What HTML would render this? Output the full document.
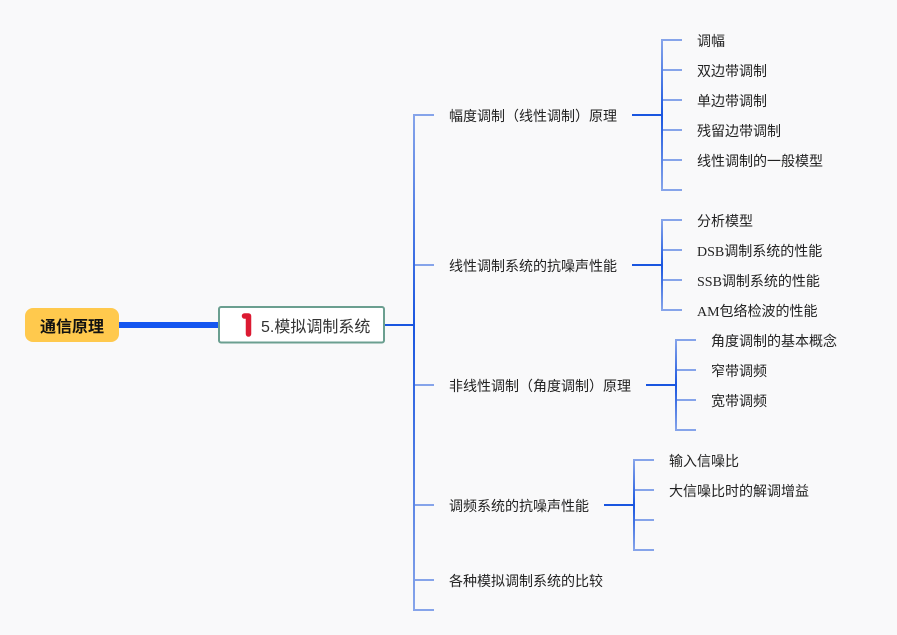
<!DOCTYPE html>
<html><head><meta charset="utf-8"><style>
html,body{margin:0;padding:0;background:#f9f9fa;width:897px;height:635px;overflow:hidden}
svg{display:block}
text{font-family:"Liberation Serif","Noto Sans CJK SC",sans-serif;font-size:14px;fill:#222}
.s{font-family:"Liberation Sans","Noto Sans CJK SC",sans-serif}
</style></head><body>
<svg width="897" height="635" viewBox="0 0 897 635" xmlns="http://www.w3.org/2000/svg">
<defs>
<linearGradient id="g0" gradientUnits="userSpaceOnUse" x1="0" y1="115" x2="0" y2="610"><stop offset="0" stop-color="#86a4ea"/><stop offset=".424" stop-color="#1a56e0"/><stop offset="1" stop-color="#86a4ea"/></linearGradient>
<linearGradient id="g1" gradientUnits="userSpaceOnUse" x1="0" y1="40" x2="0" y2="190"><stop offset="0" stop-color="#86a4ea"/><stop offset=".5" stop-color="#1a56e0"/><stop offset="1" stop-color="#86a4ea"/></linearGradient>
<linearGradient id="g2" gradientUnits="userSpaceOnUse" x1="0" y1="220" x2="0" y2="310"><stop offset="0" stop-color="#86a4ea"/><stop offset=".5" stop-color="#1a56e0"/><stop offset="1" stop-color="#86a4ea"/></linearGradient>
<linearGradient id="g3" gradientUnits="userSpaceOnUse" x1="0" y1="340" x2="0" y2="430"><stop offset="0" stop-color="#86a4ea"/><stop offset=".5" stop-color="#1a56e0"/><stop offset="1" stop-color="#86a4ea"/></linearGradient>
<linearGradient id="g4" gradientUnits="userSpaceOnUse" x1="0" y1="460" x2="0" y2="550"><stop offset="0" stop-color="#86a4ea"/><stop offset=".5" stop-color="#1a56e0"/><stop offset="1" stop-color="#86a4ea"/></linearGradient>
</defs>
<g fill="none" stroke="#86a4ea" stroke-width="2">
<path d="M434 115H414M434 610H414"/><path d="M414 265H434M414 385H434M414 505H434M414 580H434"/>
<path d="M682 40H662M682 190H662"/><path d="M662 70H682M662 100H682M662 130H682M662 160H682"/>
<path d="M682 220H662M682 310H662"/><path d="M662 250H682M662 280H682"/>
<path d="M696 340H676M696 430H676"/><path d="M676 370H696M676 400H696"/>
<path d="M654 460H634M654 550H634"/><path d="M634 490H654M634 520H654"/>
</g>
<g fill="none" stroke-width="2">
<rect x="413" y="114" width="2" height="497" stroke="none" fill="url(#g0)"/>
<rect x="661" y="39" width="2" height="152" stroke="none" fill="url(#g1)"/>
<rect x="661" y="219" width="2" height="92" stroke="none" fill="url(#g2)"/>
<rect x="675" y="339" width="2" height="92" stroke="none" fill="url(#g3)"/>
<rect x="633" y="459" width="2" height="92" stroke="none" fill="url(#g4)"/>
</g>
<g fill="none" stroke="#1a56e0" stroke-width="2">
<path d="M385 325H414"/><path d="M632 115H662"/><path d="M632 265H662"/><path d="M646 385H676"/><path d="M604 505H634"/>
</g>
<path d="M119 325H219" stroke="#1456f0" stroke-width="6" fill="none"/>
<rect x="25" y="308" width="94" height="34" rx="8" fill="#ffc94d"/>
<text class="s" x="72" y="332" text-anchor="middle" style="font-size:16px;font-weight:700;fill:#111">通信原理</text>
<rect x="219" y="307" width="165" height="35.500" rx="2" fill="#fff" stroke="#6b9f90" stroke-width="2"/>
<path d="M244.500 316H248.500V334" fill="none" stroke="#dc1a32" stroke-width="5.500" stroke-linecap="round" stroke-linejoin="round"/>
<text class="s" x="261" y="332" style="font-size:16px;fill:#333">5.模拟调制系统</text>
<text x="449" y="121">幅度调制（线性调制）原理</text>
<text x="449" y="271">线性调制系统的抗噪声性能</text>
<text x="449" y="391">非线性调制（角度调制）原理</text>
<text x="449" y="511">调频系统的抗噪声性能</text>
<text x="449" y="586">各种模拟调制系统的比较</text>
<text x="697" y="46">调幅</text>
<text x="697" y="76">双边带调制</text>
<text x="697" y="106">单边带调制</text>
<text x="697" y="136">残留边带调制</text>
<text x="697" y="166">线性调制的一般模型</text>
<text x="697" y="226">分析模型</text>
<text x="697" y="256">DSB调制系统的性能</text>
<text x="697" y="286">SSB调制系统的性能</text>
<text x="697" y="316">AM包络检波的性能</text>
<text x="711" y="346">角度调制的基本概念</text>
<text x="711" y="376">窄带调频</text>
<text x="711" y="406">宽带调频</text>
<text x="669" y="466">输入信噪比</text>
<text x="669" y="496">大信噪比时的解调增益</text>
</svg>
</body></html>
